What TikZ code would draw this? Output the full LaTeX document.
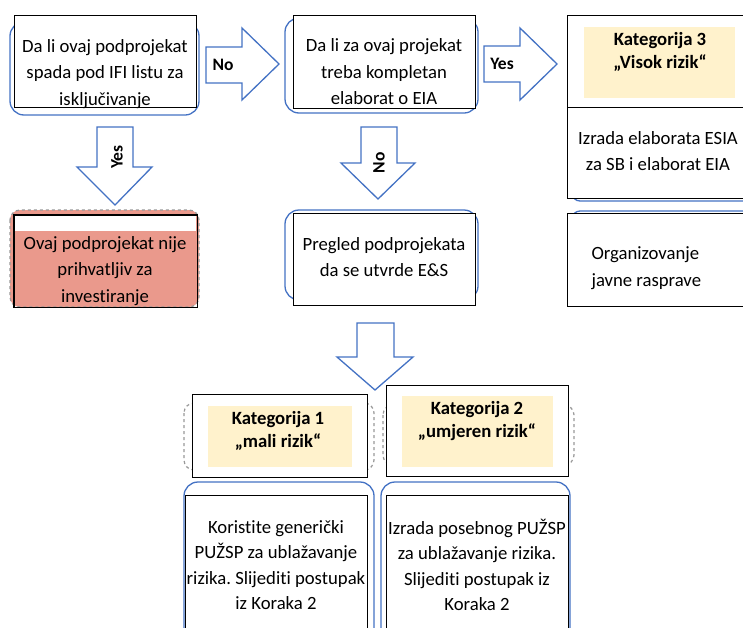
\documentclass[tikz,border=0pt]{standalone}
\usepackage{fontspec}
\setmainfont{Carlito}[Ligatures=NoCommon]
\usepackage{tikz}
\frenchspacing

\definecolor{arrowblue}{HTML}{4472C4}
\definecolor{rejectred}{HTML}{EA998C}
\definecolor{titlefill}{HTML}{FFF2CC}

\tikzset{
  box/.style={draw=black, line width=1.4pt, fill=white, inner sep=0pt},
  bluebg/.style={draw=arrowblue, line width=1.3pt, rounded corners=14pt},
  dashbg/.style={draw=gray!80, dashed, line width=1.2pt, rounded corners=10pt},
  blockarrow/.style={draw=arrowblue, line width=1.3pt, fill=white},
  txt/.style={align=center, font=\fontsize{18.7}{26.5}\selectfont},
  ttl/.style={align=center, font=\fontsize{18.7}{23}\selectfont\bfseries},
  arrowlbl/.style={font=\fontsize{17.5}{19}\selectfont\bfseries},
}

\begin{document}
\begin{tikzpicture}[x=1pt,y=-1pt]
  \clip (0,0) rectangle (743,627);
  \fill[white] (0,0) rectangle (743,627);

  % backgrounds behind the boxes
  \draw[bluebg] (10,22) rectangle (199,115);
  \draw[bluebg] (285,18) rectangle (478,113);
  \filldraw[dashbg, fill=rejectred] (10,210) rectangle (199,307);
  \draw[bluebg] (285,210) rectangle (478,300);
  \draw[bluebg, rounded corners=8pt] (572,110) rectangle (760,201);
  \draw[bluebg, rounded corners=8pt] (572,211) rectangle (760,300);
  \draw[dashbg] (184,403) rectangle (374,470);
  \draw[dashbg] (383,405) rectangle (574,465);
  \draw[bluebg] (184,482) rectangle (374,660);
  \draw[bluebg] (381,482) rectangle (570,660);

  % boxes
  \node[box, minimum width=182pt, minimum height=92pt, anchor=north west] (isIFI) at (14,15) {};
  \node[box, minimum width=182pt, minimum height=91pt, anchor=north west, draw=none, fill=none] (reject) at (14,215) {};
  \fill[white] (14,215) rectangle (196,231);
  \draw[line width=1.2pt] (reject.north west) rectangle (reject.south east);
  \node[box, minimum width=182pt, minimum height=93pt, anchor=north west] (needEIA) at (293,15) {};
  \node[box, minimum width=182pt, minimum height=92pt, anchor=north west] (review) at (293,213) {};
  \node[box, minimum width=190pt, minimum height=92pt, anchor=north west] (cat3) at (567,15) {};
  \node[box, minimum width=190pt, minimum height=91pt, anchor=north west] (esia) at (567,107) {};
  \node[box, minimum width=190pt, minimum height=93pt, anchor=north west] (hearing) at (567,213) {};
  \node[box, minimum width=175pt, minimum height=83pt, anchor=north west] (cat1) at (192,394) {};
  \node[box, minimum width=182pt, minimum height=91pt, anchor=north west] (cat2) at (386,385) {};
  \node[box, minimum width=182pt, minimum height=150pt, anchor=north west] (plan1) at (185,495) {};
  \node[box, minimum width=182pt, minimum height=150pt, anchor=north west] (plan2) at (386,495) {};

  % title fills
  \fill[titlefill] (584,27) rectangle (735,98);
  \fill[titlefill] (208,406) rectangle (352,467);
  \fill[titlefill] (402,396) rectangle (553,467);

  % block arrows
  \draw[blockarrow] (206,47) -- (242,47) -- (242,28) -- (279,64) -- (242,100) -- (242,83) -- (206,83) -- cycle;
  \draw[blockarrow] (484,46) -- (520,46) -- (520,28) -- (557,64) -- (520,100) -- (520,82) -- (484,82) -- cycle;
  \draw[blockarrow] (97,127) -- (133,127) -- (133,167) -- (152,167) -- (115,205) -- (77,167) -- (97,167) -- cycle;
  \draw[blockarrow] (361,127) -- (397,127) -- (397,163) -- (415,163) -- (378,199) -- (341,163) -- (361,163) -- cycle;
  \draw[blockarrow] (357,323) -- (394,323) -- (394,357) -- (413,357) -- (375,390) -- (337,357) -- (357,357) -- cycle;

  \node[arrowlbl] (noA) at (223,65) {No};
  \node[arrowlbl] (yesB) at (502,64) {Yes};
  \node[arrowlbl, rotate=90] (yesA) at (117,157) {Yes};
  \node[arrowlbl, rotate=90] (noB) at (379,163) {No};

  % texts
  \node[txt] (isIFItxt) at (105,74) {Da li ovaj podprojekat\\spada pod IFI listu za\\isključivanje};
  \node[txt] (needEIAtxt) at (384,72) {Da li za ovaj projekat\\treba kompletan\\elaborat o EIA};
  \node[txt] (rejecttxt) at (105,271) {Ovaj podprojekat nije\\prihvatljiv za\\investiranje};
  \node[txt] (reviewtxt) at (384,257) {Pregled podprojekata\\da se utvrde E\&S};
  \node[ttl] (cat3txt) at (660,52) {Kategorija 3\\„Visok rizik“};
  \node[txt] (esiatxt) at (658,151) {Izrada elaborata ESIA\\za SB i elaborat EIA};
  \node[txt, align=left, anchor=west] (hearingtxt) at (588,268) {Organizovanje\\javne rasprave};
  \node[ttl] (cat1txt) at (278,431) {Kategorija 1\\„mali rizik“};
  \node[ttl] (cat2txt) at (477,421) {Kategorija 2\\„umjeren rizik“};
  \node[txt, font=\fontsize{18.7}{25.5}\selectfont] (plan1txt) at (276,565) {Koristite generički\\PUŽSP za ublažavanje\\rizika. Slijediti postupak\\iz Koraka 2};
  \node[txt, font=\fontsize{18.7}{25.5}\selectfont] (plan2txt) at (477,565) {Izrada posebnog PUŽSP\\za ublažavanje rizika.\\Slijediti postupak iz\\Koraka 2};
\end{tikzpicture}
\end{document}
